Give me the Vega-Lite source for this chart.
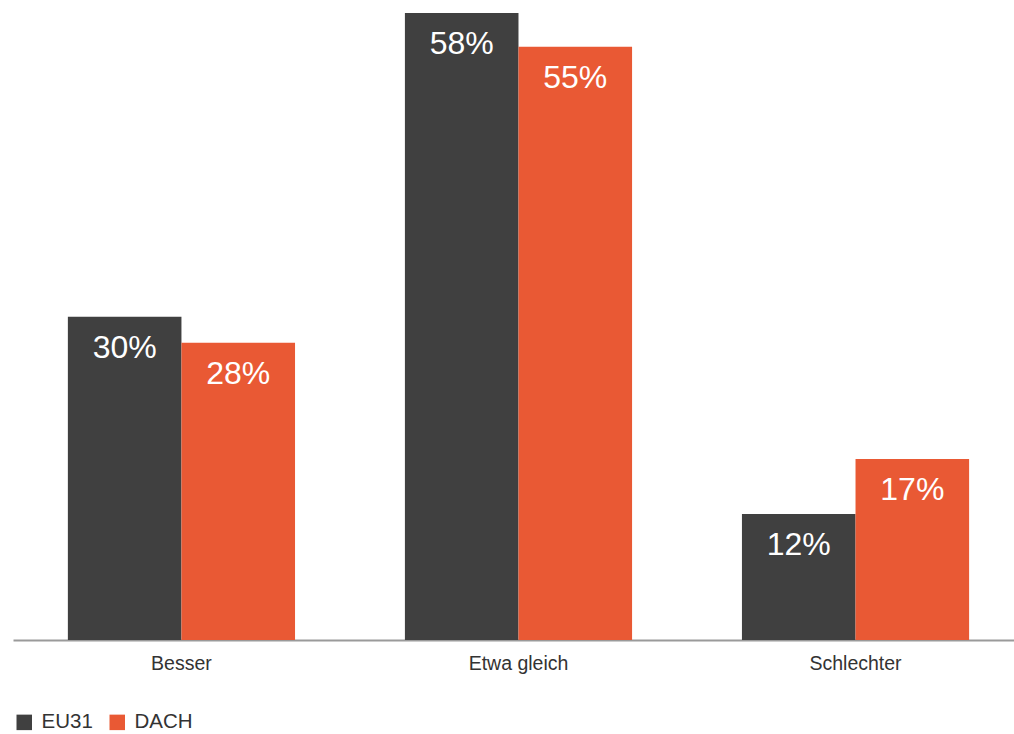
{
  "$schema": "https://vega.github.io/schema/vega-lite/v6.json",
  "autosize": {"type": "none"},
  "width": 1001,
  "height": 640,
  "padding": {"left": 13, "top": 0, "right": 0, "bottom": 94},
  "background": "white",
  "config": {
    "view": {"stroke": null},
    "font": "Liberation Sans"
  },
  "data": {
    "values": [
      {"category": "Besser", "series": "EU31", "value": 0.2994},
      {"category": "Besser", "series": "DACH", "value": 0.2753},
      {"category": "Etwa gleich", "series": "EU31", "value": 0.5806},
      {"category": "Etwa gleich", "series": "DACH", "value": 0.5494},
      {"category": "Schlechter", "series": "EU31", "value": 0.1167},
      {"category": "Schlechter", "series": "DACH", "value": 0.1676}
    ]
  },
  "encoding": {
    "x": {
      "field": "category",
      "type": "nominal",
      "sort": ["Besser", "Etwa gleich", "Schlechter"],
      "scale": {"paddingInner": 0.326, "paddingOuter": 0.148, "align": 0.55},
      "axis": {
        "title": null,
        "domainColor": "#9a9a9a",
        "domainWidth": 2,
        "ticks": false,
        "grid": false,
        "labelFontSize": 19.5,
        "labelColor": "#333333",
        "labelPadding": 14,
        "labelAngle": 0
      }
    },
    "xOffset": {
      "field": "series",
      "type": "nominal",
      "scale": {"domain": ["EU31", "DACH"], "paddingInner": 0, "paddingOuter": 0}
    },
    "y": {
      "field": "value",
      "type": "quantitative",
      "scale": {"domain": [0, 0.5926], "nice": false, "zero": true},
      "axis": null
    }
  },
  "layer": [
    {
      "mark": {"type": "bar", "cornerRadius": 0},
      "encoding": {
        "color": {
          "field": "series",
          "type": "nominal",
          "scale": {"domain": ["EU31", "DACH"], "range": ["#404040", "#e95934"]},
          "legend": {
            "title": null,
            "orient": "none",
            "direction": "horizontal",
            "legendX": 1,
            "legendY": 712,
            "symbolType": "square",
            "symbolSize": 240,
            "symbolOpacity": 1,
            "symbolStrokeWidth": 0,
            "labelFontSize": 20.5,
            "labelColor": "#333333",
            "labelOffset": 7,
            "columnPadding": 14
          }
        }
      }
    },
    {
      "mark": {"type": "text", "color": "white", "fontSize": 32, "baseline": "alphabetic", "dy": 41},
      "encoding": {
        "text": {"field": "value", "type": "quantitative", "format": ".0%"}
      }
    }
  ]
}
